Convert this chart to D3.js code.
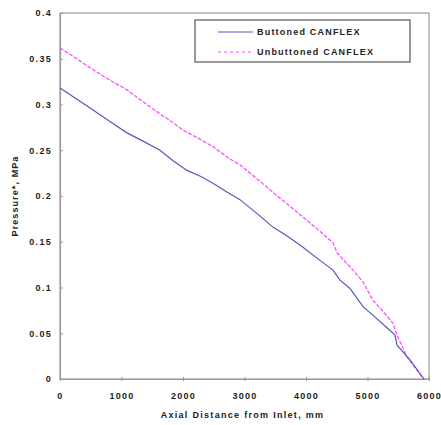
<!DOCTYPE html>
<html><head><meta charset="utf-8">
<script src="https://cdn.jsdelivr.net/npm/d3@7"></script>
<style>
body{margin:0;background:#fff;}
text{font-family:"Liberation Sans",Arial,sans-serif;font-weight:bold;fill:#222;}
</style></head>
<body><svg id="c" width="441" height="425"></svg>
<script>
const buttonedX = [0,270,537,800,1089,1350,1626,1850,2065,2300,2488,2700,2927,3200,3463,3700,3951,4200,4439,4553,4715,4927,5100,5317,5447,5480,5691,5920];
const buttonedY = [0.318,0.306,0.294,0.282,0.269,0.260,0.250,0.238,0.228,0.221,0.214,0.205,0.196,0.181,0.166,0.156,0.144,0.131,0.119,0.108,0.099,0.079,0.069,0.056,0.048,0.037,0.021,0];
const unbuttonedX = [0,270,540,800,1089,1350,1577,1800,2000,2250,2488,2750,2927,3200,3463,3700,3951,4200,4439,4504,4764,4927,5089,5250,5415,5480,5642,5910];
const unbuttonedY = [0.362,0.350,0.338,0.327,0.316,0.303,0.292,0.282,0.272,0.263,0.254,0.241,0.234,0.219,0.204,0.191,0.177,0.163,0.149,0.138,0.119,0.106,0.086,0.074,0.061,0.048,0.024,0];
const xTicks = [0,1000,2000,3000,4000,5000,6000];
const yTicks = [0,0.05,0.1,0.15,0.2,0.25,0.3,0.35,0.4];
const seriesNames = ["Buttoned CANFLEX","Unbuttoned CANFLEX"];
const seriesColors = ["#5858b8","#ff44ff"];

const svg = d3.select("#c");
const L=60,R=429,T=13,B=379;
const x = d3.scaleLinear().domain([0,6000]).range([L,R]);
const y = d3.scaleLinear().domain([0,0.4]).range([B,T]);

// frame
svg.append("rect").attr("x",L).attr("y",T).attr("width",R-L).attr("height",B-T)
  .attr("fill","none").attr("stroke","#999").attr("stroke-width",1.2);

// axes
const xa = svg.append("g").attr("transform",`translate(0,${B})`)
  .call(d3.axisBottom(x).tickValues(xTicks).tickSize(0).tickPadding(14).tickFormat(d3.format("d")));
xa.select(".domain").attr("stroke","#999").attr("stroke-width",1.2);
xa.selectAll(".tick").append("line").attr("y1",-2).attr("y2",2).attr("stroke","#999");
const ya = svg.append("g").attr("transform",`translate(${L},0)`)
  .call(d3.axisLeft(y).tickValues(yTicks).tickSize(0).tickPadding(8).tickFormat(d=>d===0?"0":String(d)));
ya.select(".domain").attr("stroke","#999").attr("stroke-width",1.2);
ya.selectAll(".tick").append("line").attr("x1",0).attr("x2",3).attr("stroke","#999");
svg.selectAll(".tick text").style("font-size","9px").style("letter-spacing","1.3px")
  .style("font-family","'Liberation Sans',Arial,sans-serif").style("font-weight","bold").attr("fill","#222");

// titles
svg.append("text").attr("x",(L+R)/2-2).attr("y",418).attr("text-anchor","middle")
  .style("font-size","9px").style("letter-spacing","1.3px").text("Axial Distance from Inlet, mm");
svg.append("text").attr("transform","translate(18,196) rotate(-90)").attr("text-anchor","middle")
  .style("font-size","9px").style("letter-spacing","1.1px").text("Pressure*, MPa");

// lines
const line = d3.line().x(d=>x(d[0])).y(d=>y(d[1]));
const b = buttonedX.map((v,i)=>[v,buttonedY[i]]);
const u = unbuttonedX.map((v,i)=>[v,unbuttonedY[i]]);
svg.append("path").datum(u).attr("d",line).attr("fill","none").attr("stroke",seriesColors[1])
  .attr("stroke-width",1.2).attr("stroke-dasharray","4,1.5");
svg.append("path").datum(b).attr("d",line).attr("fill","none").attr("stroke",seriesColors[0])
  .attr("stroke-width",1.2);

// legend
const lg = svg.append("g");
lg.append("rect").attr("x",195).attr("y",20).attr("width",215).attr("height",42)
  .attr("fill","#fff").attr("stroke","#555").attr("stroke-width",1.2);
seriesNames.forEach((n,i)=>{
  const yy = 32+i*20;
  lg.append("line").attr("x1",218).attr("x2",253).attr("y1",yy).attr("y2",yy)
    .attr("stroke",seriesColors[i]).attr("stroke-width",1.2)
    .attr("stroke-dasharray",i===1?"3,3":null);
  lg.append("text").attr("x",257).attr("y",yy+3).style("font-size","9px").style("letter-spacing","1.2px").text(n);
});
</script></body></html>
